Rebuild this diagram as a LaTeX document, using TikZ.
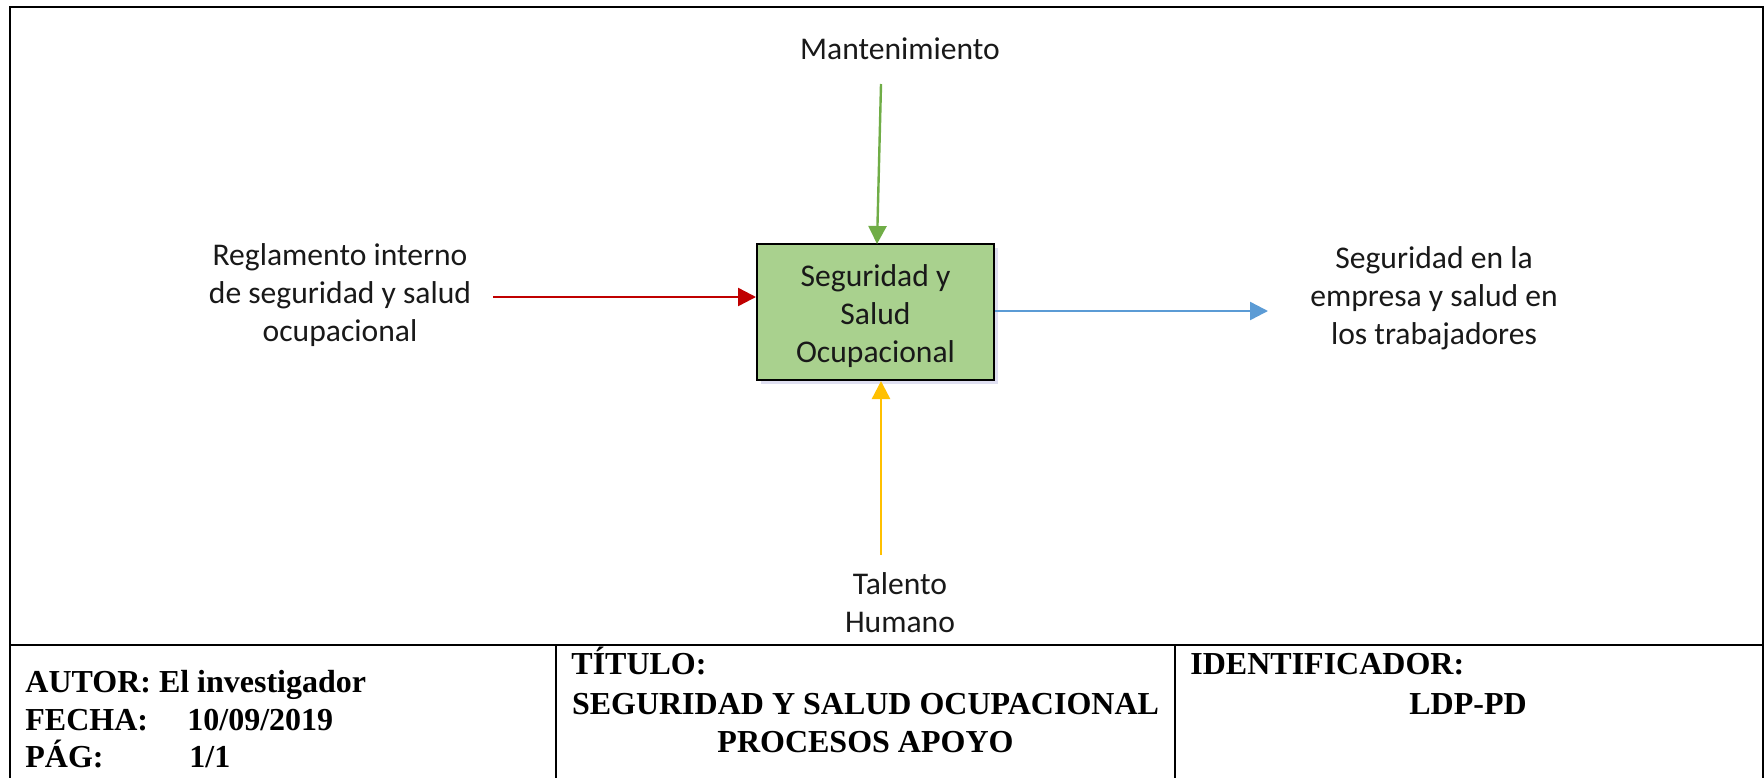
\documentclass[tikz,border=0pt]{standalone}
\usepackage{fontspec}
\setmainfont{Liberation Serif}
\newfontfamily\calib{Carlito}
\usetikzlibrary{arrows.meta,shadows,calc}
\definecolor{boxgreen}{HTML}{A9D18E}
\definecolor{arrred}{HTML}{C00000}
\definecolor{arrgreen}{HTML}{70AD47}
\definecolor{arrblue}{HTML}{5B9BD5}
\definecolor{arryellow}{HTML}{FFC000}
\tikzset{
  lbl/.style={font=\calib\fontsize{15.8}{19}\selectfont, align=center, inner sep=0pt, text=black!90},
  procbox/.style={draw=black, line width=1pt, fill=boxgreen, minimum width=118.5pt, minimum height=68pt,
     inner sep=0pt,
     drop shadow={opacity=0.18, shadow xshift=2pt, shadow yshift=-2pt, fill=blue!40!gray}},
  boxtext/.style={font=\calib\fontsize{15.8}{18.8}\selectfont, align=center, inner sep=0pt, text=black!90},
  conn/.style={line width=1.2pt, -{Triangle[length=9pt,width=9pt]}},
  tbl/.style={font=\bfseries\fontsize{16}{19}\selectfont, inner sep=0pt},
  frame/.style={line width=1pt, draw=black}
}
\begin{document}
\begin{tikzpicture}[x=0.5pt,y=-0.5pt]
\useasboundingbox (0,0) rectangle (1764,777);
% frame
\draw[frame] (9.5,780) -- (9.5,7) -- (1762.5,7) -- (1762.5,780);
\draw[frame] (9.5,645) -- (1762.5,645);
\draw[frame] (556,645) -- (556,780);
\draw[frame] (1175,645) -- (1175,780);
% process box
\node[procbox] (box) at (875.5,312) {};
\node[boxtext] (boxtxt) at ($(box.center)+(0,4)$) {Seguridad y\\Salud\\Ocupacional};
% labels
\node[lbl] (mant) at (900,49) {Mantenimiento};
\node[lbl] (regl) at (340,295) {Reglamento interno\\de seguridad y salud\\ocupacional};
\node[lbl] (segu) at (1434,298) {Seguridad en la\\empresa y salud en\\los trabajadores};
\node[lbl] (tale) at (900,603) {Talento\\Humano};
% connector ends
\coordinate (gstart) at (881,84);
\coordinate (gend) at (877,244);
\coordinate (rstart) at (493,297);
\coordinate (bend) at (1268,311);
\coordinate (ystart) at (881,555);
\draw[conn, draw=arrgreen, fill=arrgreen] (gstart) -- (gend);
\draw[conn, draw=arrred, fill=arrred] (rstart) -- (rstart -| box.west);
\draw[conn, draw=arrblue, fill=arrblue] (bend -| box.east) -- (bend);
\draw[conn, draw=arryellow, fill=arryellow] (ystart) -- (ystart |- box.south);
% table texts
\node[tbl, anchor=base west] (autor) at (25,692) {AUTOR: El investigador};
\node[tbl, anchor=base west] (fecha) at (25,730) {FECHA:};
\node[tbl, anchor=base west] (fechav) at (187,730) {10/09/2019};
\node[tbl, anchor=base west] (pag) at (25,767) {PÁG:};
\node[tbl, anchor=base west] (pagv) at (189,767) {1/1};
\node[tbl, anchor=base west] (tit) at (571,674) {TÍTULO:};
\node[tbl, anchor=base] (tit1) at (865.5,714) {SEGURIDAD Y SALUD OCUPACIONAL};
\node[tbl, anchor=base] (tit2) at (865.5,752) {PROCESOS APOYO};
\node[tbl, anchor=base west] (iden) at (1190,674) {IDENTIFICADOR:};
\node[tbl, anchor=base] (idenv) at (1468,714) {LDP-PD};
\end{tikzpicture}
\end{document}
